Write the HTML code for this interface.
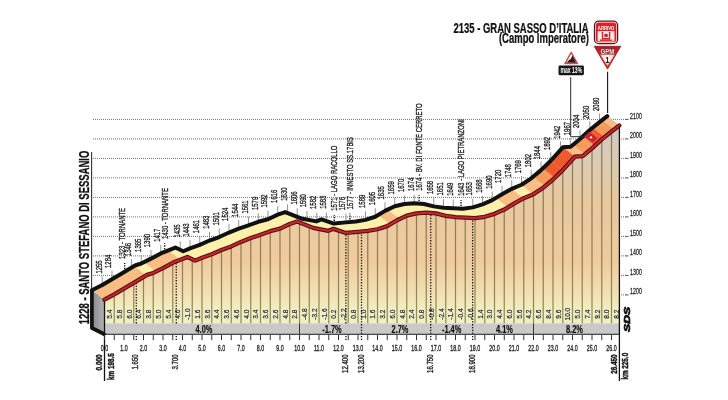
<!DOCTYPE html>
<html><head><meta charset="utf-8"><title>Gran Sasso d'Italia</title>
<style>html,body{margin:0;padding:0;background:#fff}svg{display:block;will-change:transform}text{font-family:"Liberation Sans",sans-serif}</style>
</head><body>
<svg width="728" height="400" viewBox="0 0 728 400" font-family="'Liberation Sans', sans-serif">
<defs>
<linearGradient id="face" gradientUnits="userSpaceOnUse" x1="0" y1="120" x2="0" y2="324"><stop offset="0" stop-color="#cdc9c3"/><stop offset="0.20" stop-color="#dccbb4"/><stop offset="0.40" stop-color="#e9c8a0"/><stop offset="0.69" stop-color="#efcb9f"/><stop offset="0.83" stop-color="#f2dcb0"/><stop offset="0.92" stop-color="#f2ecc0"/><stop offset="1" stop-color="#eff0c3"/></linearGradient>
<linearGradient id="lface" gradientUnits="userSpaceOnUse" x1="92" y1="0" x2="105" y2="0"><stop offset="0" stop-color="#8a8a8c"/><stop offset="1" stop-color="#b4b4b6"/></linearGradient>
<radialGradient id="pink" cx="0.5" cy="0.55" r="0.65"><stop offset="0" stop-color="#fff"/><stop offset="0.6" stop-color="#fef4f3"/><stop offset="1" stop-color="#f8c6c3"/></radialGradient>
<linearGradient id="gpm" x1="0" y1="0" x2="0" y2="1"><stop offset="0" stop-color="#b51b25"/><stop offset="0.5" stop-color="#d8232a"/><stop offset="1" stop-color="#e3312f"/></linearGradient>
<radialGradient id="pink2" cx="0.5" cy="0.35" r="0.7"><stop offset="0" stop-color="#fff"/><stop offset="0.6" stop-color="#fbdcda"/><stop offset="1" stop-color="#ee8f8c"/></radialGradient>
</defs>
<rect width="728" height="400" fill="#fff"/>
<line x1="93" y1="119.4" x2="626" y2="119.4" stroke="#707070" stroke-width="1" stroke-dasharray="1 1"/>
<line x1="625.5" y1="119.4" x2="628.5" y2="119.4" stroke="#555" stroke-width="1"/>
<text transform="translate(630.1,118.7) rotate(0) scale(0.55,1)" font-size="9.6" font-weight="normal" text-anchor="start" fill="#222" stroke="#222" stroke-width="0.3">2100</text>
<line x1="93" y1="138.9" x2="626" y2="138.9" stroke="#707070" stroke-width="1" stroke-dasharray="1 1"/>
<line x1="625.5" y1="138.9" x2="628.5" y2="138.9" stroke="#555" stroke-width="1"/>
<text transform="translate(630.1,138.2) rotate(0) scale(0.55,1)" font-size="9.6" font-weight="normal" text-anchor="start" fill="#222" stroke="#222" stroke-width="0.3">2000</text>
<line x1="93" y1="158.4" x2="626" y2="158.4" stroke="#707070" stroke-width="1" stroke-dasharray="1 1"/>
<line x1="625.5" y1="158.4" x2="628.5" y2="158.4" stroke="#555" stroke-width="1"/>
<text transform="translate(630.1,157.7) rotate(0) scale(0.55,1)" font-size="9.6" font-weight="normal" text-anchor="start" fill="#222" stroke="#222" stroke-width="0.3">1900</text>
<line x1="93" y1="177.9" x2="626" y2="177.9" stroke="#707070" stroke-width="1" stroke-dasharray="1 1"/>
<line x1="625.5" y1="177.9" x2="628.5" y2="177.9" stroke="#555" stroke-width="1"/>
<text transform="translate(630.1,177.2) rotate(0) scale(0.55,1)" font-size="9.6" font-weight="normal" text-anchor="start" fill="#222" stroke="#222" stroke-width="0.3">1800</text>
<line x1="93" y1="197.4" x2="626" y2="197.4" stroke="#707070" stroke-width="1" stroke-dasharray="1 1"/>
<line x1="625.5" y1="197.4" x2="628.5" y2="197.4" stroke="#555" stroke-width="1"/>
<text transform="translate(630.1,196.7) rotate(0) scale(0.55,1)" font-size="9.6" font-weight="normal" text-anchor="start" fill="#222" stroke="#222" stroke-width="0.3">1700</text>
<line x1="93" y1="216.9" x2="626" y2="216.9" stroke="#707070" stroke-width="1" stroke-dasharray="1 1"/>
<line x1="625.5" y1="216.9" x2="628.5" y2="216.9" stroke="#555" stroke-width="1"/>
<text transform="translate(630.1,216.2) rotate(0) scale(0.55,1)" font-size="9.6" font-weight="normal" text-anchor="start" fill="#222" stroke="#222" stroke-width="0.3">1600</text>
<line x1="93" y1="236.4" x2="626" y2="236.4" stroke="#707070" stroke-width="1" stroke-dasharray="1 1"/>
<line x1="625.5" y1="236.4" x2="628.5" y2="236.4" stroke="#555" stroke-width="1"/>
<text transform="translate(630.1,235.7) rotate(0) scale(0.55,1)" font-size="9.6" font-weight="normal" text-anchor="start" fill="#222" stroke="#222" stroke-width="0.3">1500</text>
<line x1="93" y1="255.9" x2="626" y2="255.9" stroke="#707070" stroke-width="1" stroke-dasharray="1 1"/>
<line x1="625.5" y1="255.9" x2="628.5" y2="255.9" stroke="#555" stroke-width="1"/>
<text transform="translate(630.1,255.2) rotate(0) scale(0.55,1)" font-size="9.6" font-weight="normal" text-anchor="start" fill="#222" stroke="#222" stroke-width="0.3">1400</text>
<line x1="93" y1="275.4" x2="626" y2="275.4" stroke="#707070" stroke-width="1" stroke-dasharray="1 1"/>
<line x1="625.5" y1="275.4" x2="628.5" y2="275.4" stroke="#555" stroke-width="1"/>
<text transform="translate(630.1,274.7) rotate(0) scale(0.55,1)" font-size="9.6" font-weight="normal" text-anchor="start" fill="#222" stroke="#222" stroke-width="0.3">1300</text>
<line x1="93" y1="294.9" x2="626" y2="294.9" stroke="#707070" stroke-width="1" stroke-dasharray="1 1"/>
<line x1="625.5" y1="294.9" x2="628.5" y2="294.9" stroke="#555" stroke-width="1"/>
<text transform="translate(630.1,294.2) rotate(0) scale(0.55,1)" font-size="9.6" font-weight="normal" text-anchor="start" fill="#222" stroke="#222" stroke-width="0.3">1200</text>
<line x1="91.6" y1="152" x2="91.6" y2="291" stroke="#333" stroke-width="1.1"/>
<line x1="102.25" y1="283.98" x2="102.25" y2="276.38" stroke="#8a8a8a" stroke-width="0.9"/>
<text transform="translate(101.65,273.57) rotate(-90) scale(0.62,1)" font-size="9.6" font-weight="normal" text-anchor="start" fill="#222" stroke="#222" stroke-width="0.35">1255</text>
<line x1="112" y1="278.32" x2="112" y2="270.72" stroke="#8a8a8a" stroke-width="0.9"/>
<text transform="translate(111.4,267.96) rotate(-90) scale(0.62,1)" font-size="9.6" font-weight="normal" text-anchor="start" fill="#222" stroke="#222" stroke-width="0.35">1284</text>
<line x1="131.5" y1="266.59" x2="131.5" y2="258.99" stroke="#8a8a8a" stroke-width="0.9"/>
<text transform="translate(130.9,256.13) rotate(-90) scale(0.62,1)" font-size="9.6" font-weight="normal" text-anchor="start" fill="#222" stroke="#222" stroke-width="0.35">1346</text>
<line x1="141.25" y1="262.53" x2="141.25" y2="254.93" stroke="#8a8a8a" stroke-width="0.9"/>
<text transform="translate(140.65,251.92) rotate(-90) scale(0.62,1)" font-size="9.6" font-weight="normal" text-anchor="start" fill="#222" stroke="#222" stroke-width="0.35">1365</text>
<line x1="151" y1="257.65" x2="151" y2="250.05" stroke="#8a8a8a" stroke-width="0.9"/>
<text transform="translate(150.4,247.18) rotate(-90) scale(0.62,1)" font-size="9.6" font-weight="normal" text-anchor="start" fill="#222" stroke="#222" stroke-width="0.35">1390</text>
<line x1="160.75" y1="252.39" x2="160.75" y2="244.79" stroke="#8a8a8a" stroke-width="0.9"/>
<text transform="translate(160.15,241.84) rotate(-90) scale(0.62,1)" font-size="9.6" font-weight="normal" text-anchor="start" fill="#222" stroke="#222" stroke-width="0.35">1417</text>
<line x1="180.25" y1="248.85" x2="180.25" y2="241.25" stroke="#8a8a8a" stroke-width="0.9"/>
<text transform="translate(179.65,237.55) rotate(-90) scale(0.62,1)" font-size="9.6" font-weight="normal" text-anchor="start" fill="#222" stroke="#222" stroke-width="0.35">1435</text>
<line x1="190" y1="247.32" x2="190" y2="239.72" stroke="#8a8a8a" stroke-width="0.9"/>
<text transform="translate(189.4,236.56) rotate(-90) scale(0.62,1)" font-size="9.6" font-weight="normal" text-anchor="start" fill="#222" stroke="#222" stroke-width="0.35">1443</text>
<line x1="199.75" y1="243.81" x2="199.75" y2="236.21" stroke="#8a8a8a" stroke-width="0.9"/>
<text transform="translate(199.15,233.14) rotate(-90) scale(0.62,1)" font-size="9.6" font-weight="normal" text-anchor="start" fill="#222" stroke="#222" stroke-width="0.35">1461</text>
<line x1="209.5" y1="239.52" x2="209.5" y2="231.92" stroke="#8a8a8a" stroke-width="0.9"/>
<text transform="translate(208.9,228.85) rotate(-90) scale(0.62,1)" font-size="9.6" font-weight="normal" text-anchor="start" fill="#222" stroke="#222" stroke-width="0.35">1483</text>
<line x1="219.25" y1="236.01" x2="219.25" y2="228.41" stroke="#8a8a8a" stroke-width="0.9"/>
<text transform="translate(218.65,225.36) rotate(-90) scale(0.62,1)" font-size="9.6" font-weight="normal" text-anchor="start" fill="#222" stroke="#222" stroke-width="0.35">1501</text>
<line x1="229" y1="231.52" x2="229" y2="223.92" stroke="#8a8a8a" stroke-width="0.9"/>
<text transform="translate(228.4,220.91) rotate(-90) scale(0.62,1)" font-size="9.6" font-weight="normal" text-anchor="start" fill="#222" stroke="#222" stroke-width="0.35">1524</text>
<line x1="238.75" y1="227.62" x2="238.75" y2="220.02" stroke="#8a8a8a" stroke-width="0.9"/>
<text transform="translate(238.15,216.91) rotate(-90) scale(0.62,1)" font-size="9.6" font-weight="normal" text-anchor="start" fill="#222" stroke="#222" stroke-width="0.35">1544</text>
<line x1="248.5" y1="224.31" x2="248.5" y2="216.71" stroke="#8a8a8a" stroke-width="0.9"/>
<text transform="translate(247.9,213.56) rotate(-90) scale(0.62,1)" font-size="9.6" font-weight="normal" text-anchor="start" fill="#222" stroke="#222" stroke-width="0.35">1561</text>
<line x1="258.25" y1="220.8" x2="258.25" y2="213.2" stroke="#8a8a8a" stroke-width="0.9"/>
<text transform="translate(257.65,209.99) rotate(-90) scale(0.62,1)" font-size="9.6" font-weight="normal" text-anchor="start" fill="#222" stroke="#222" stroke-width="0.35">1579</text>
<line x1="268" y1="218.26" x2="268" y2="210.66" stroke="#8a8a8a" stroke-width="0.9"/>
<text transform="translate(267.4,207.55) rotate(-90) scale(0.62,1)" font-size="9.6" font-weight="normal" text-anchor="start" fill="#222" stroke="#222" stroke-width="0.35">1592</text>
<line x1="277.75" y1="213.58" x2="277.75" y2="205.98" stroke="#8a8a8a" stroke-width="0.9"/>
<text transform="translate(277.15,202.91) rotate(-90) scale(0.62,1)" font-size="9.6" font-weight="normal" text-anchor="start" fill="#222" stroke="#222" stroke-width="0.35">1616</text>
<line x1="287.5" y1="211.99" x2="287.5" y2="204.39" stroke="#8a8a8a" stroke-width="0.9"/>
<text transform="translate(286.9,200.69) rotate(-90) scale(0.62,1)" font-size="9.6" font-weight="normal" text-anchor="start" fill="#222" stroke="#222" stroke-width="0.35">1630</text>
<line x1="297.25" y1="215.91" x2="297.25" y2="208.31" stroke="#8a8a8a" stroke-width="0.9"/>
<text transform="translate(296.65,204.61) rotate(-90) scale(0.62,1)" font-size="9.6" font-weight="normal" text-anchor="start" fill="#222" stroke="#222" stroke-width="0.35">1606</text>
<line x1="307" y1="218.61" x2="307" y2="211.01" stroke="#8a8a8a" stroke-width="0.9"/>
<text transform="translate(306.4,207.31) rotate(-90) scale(0.62,1)" font-size="9.6" font-weight="normal" text-anchor="start" fill="#222" stroke="#222" stroke-width="0.35">1590</text>
<line x1="316.75" y1="220.26" x2="316.75" y2="212.66" stroke="#8a8a8a" stroke-width="0.9"/>
<text transform="translate(316.15,208.96) rotate(-90) scale(0.62,1)" font-size="9.6" font-weight="normal" text-anchor="start" fill="#222" stroke="#222" stroke-width="0.35">1582</text>
<line x1="326.5" y1="220.12" x2="326.5" y2="212.52" stroke="#8a8a8a" stroke-width="0.9"/>
<text transform="translate(325.9,208.82) rotate(-90) scale(0.62,1)" font-size="9.6" font-weight="normal" text-anchor="start" fill="#222" stroke="#222" stroke-width="0.35">1583</text>
<line x1="346" y1="221.38" x2="346" y2="213.78" stroke="#8a8a8a" stroke-width="0.9"/>
<text transform="translate(345.4,210.24) rotate(-90) scale(0.62,1)" font-size="9.6" font-weight="normal" text-anchor="start" fill="#222" stroke="#222" stroke-width="0.35">1576</text>
<line x1="365.5" y1="218.85" x2="365.5" y2="211.25" stroke="#8a8a8a" stroke-width="0.9"/>
<text transform="translate(364.9,207.93) rotate(-90) scale(0.62,1)" font-size="9.6" font-weight="normal" text-anchor="start" fill="#222" stroke="#222" stroke-width="0.35">1589</text>
<line x1="375.25" y1="215.73" x2="375.25" y2="208.13" stroke="#8a8a8a" stroke-width="0.9"/>
<text transform="translate(374.65,205.16) rotate(-90) scale(0.62,1)" font-size="9.6" font-weight="normal" text-anchor="start" fill="#222" stroke="#222" stroke-width="0.35">1605</text>
<line x1="385" y1="209.88" x2="385" y2="202.28" stroke="#8a8a8a" stroke-width="0.9"/>
<text transform="translate(384.4,199.44) rotate(-90) scale(0.62,1)" font-size="9.6" font-weight="normal" text-anchor="start" fill="#222" stroke="#222" stroke-width="0.35">1635</text>
<line x1="394.75" y1="205.2" x2="394.75" y2="197.6" stroke="#8a8a8a" stroke-width="0.9"/>
<text transform="translate(394.15,194.46) rotate(-90) scale(0.62,1)" font-size="9.6" font-weight="normal" text-anchor="start" fill="#222" stroke="#222" stroke-width="0.35">1659</text>
<line x1="404.5" y1="203.05" x2="404.5" y2="195.45" stroke="#8a8a8a" stroke-width="0.9"/>
<text transform="translate(403.9,191.99) rotate(-90) scale(0.62,1)" font-size="9.6" font-weight="normal" text-anchor="start" fill="#222" stroke="#222" stroke-width="0.35">1670</text>
<line x1="414.25" y1="202.27" x2="414.25" y2="194.67" stroke="#8a8a8a" stroke-width="0.9"/>
<text transform="translate(413.65,190.97) rotate(-90) scale(0.62,1)" font-size="9.6" font-weight="normal" text-anchor="start" fill="#222" stroke="#222" stroke-width="0.35">1674</text>
<line x1="433.75" y1="205.39" x2="433.75" y2="197.79" stroke="#8a8a8a" stroke-width="0.9"/>
<text transform="translate(433.15,194.09) rotate(-90) scale(0.62,1)" font-size="9.6" font-weight="normal" text-anchor="start" fill="#222" stroke="#222" stroke-width="0.35">1658</text>
<line x1="443.5" y1="206.76" x2="443.5" y2="199.16" stroke="#8a8a8a" stroke-width="0.9"/>
<text transform="translate(442.9,195.46) rotate(-90) scale(0.62,1)" font-size="9.6" font-weight="normal" text-anchor="start" fill="#222" stroke="#222" stroke-width="0.35">1651</text>
<line x1="453.25" y1="207.15" x2="453.25" y2="199.55" stroke="#8a8a8a" stroke-width="0.9"/>
<text transform="translate(452.65,195.85) rotate(-90) scale(0.62,1)" font-size="9.6" font-weight="normal" text-anchor="start" fill="#222" stroke="#222" stroke-width="0.35">1649</text>
<line x1="472.75" y1="206.37" x2="472.75" y2="198.77" stroke="#8a8a8a" stroke-width="0.9"/>
<text transform="translate(472.15,195.42) rotate(-90) scale(0.62,1)" font-size="9.6" font-weight="normal" text-anchor="start" fill="#222" stroke="#222" stroke-width="0.35">1653</text>
<line x1="482.5" y1="203.44" x2="482.5" y2="195.84" stroke="#8a8a8a" stroke-width="0.9"/>
<text transform="translate(481.9,192.73) rotate(-90) scale(0.62,1)" font-size="9.6" font-weight="normal" text-anchor="start" fill="#222" stroke="#222" stroke-width="0.35">1668</text>
<line x1="492.25" y1="199.15" x2="492.25" y2="191.55" stroke="#8a8a8a" stroke-width="0.9"/>
<text transform="translate(491.65,188.68) rotate(-90) scale(0.62,1)" font-size="9.6" font-weight="normal" text-anchor="start" fill="#222" stroke="#222" stroke-width="0.35">1690</text>
<line x1="502" y1="193.3" x2="502" y2="185.7" stroke="#8a8a8a" stroke-width="0.9"/>
<text transform="translate(501.4,182.93) rotate(-90) scale(0.62,1)" font-size="9.6" font-weight="normal" text-anchor="start" fill="#222" stroke="#222" stroke-width="0.35">1720</text>
<line x1="511.75" y1="187.84" x2="511.75" y2="180.24" stroke="#8a8a8a" stroke-width="0.9"/>
<text transform="translate(511.15,177.32) rotate(-90) scale(0.62,1)" font-size="9.6" font-weight="normal" text-anchor="start" fill="#222" stroke="#222" stroke-width="0.35">1748</text>
<line x1="521.5" y1="183.75" x2="521.5" y2="176.15" stroke="#8a8a8a" stroke-width="0.9"/>
<text transform="translate(520.9,173.31) rotate(-90) scale(0.62,1)" font-size="9.6" font-weight="normal" text-anchor="start" fill="#222" stroke="#222" stroke-width="0.35">1769</text>
<line x1="531.25" y1="177.31" x2="531.25" y2="169.71" stroke="#8a8a8a" stroke-width="0.9"/>
<text transform="translate(530.65,167.21) rotate(-90) scale(0.62,1)" font-size="9.6" font-weight="normal" text-anchor="start" fill="#222" stroke="#222" stroke-width="0.35">1802</text>
<line x1="541" y1="169.12" x2="541" y2="161.52" stroke="#8a8a8a" stroke-width="0.9"/>
<text transform="translate(540.4,159.26) rotate(-90) scale(0.62,1)" font-size="9.6" font-weight="normal" text-anchor="start" fill="#222" stroke="#222" stroke-width="0.35">1844</text>
<line x1="550.75" y1="159.76" x2="550.75" y2="152.16" stroke="#8a8a8a" stroke-width="0.9"/>
<text transform="translate(550.15,150.12) rotate(-90) scale(0.62,1)" font-size="9.6" font-weight="normal" text-anchor="start" fill="#222" stroke="#222" stroke-width="0.35">1892</text>
<line x1="560.5" y1="148.91" x2="560.5" y2="141.31" stroke="#8a8a8a" stroke-width="0.9"/>
<text transform="translate(559.9,138.81) rotate(-90) scale(0.62,1)" font-size="9.6" font-weight="normal" text-anchor="start" fill="#222" stroke="#222" stroke-width="0.35">1942</text>
<line x1="570.25" y1="145.75" x2="570.25" y2="138.15" stroke="#8a8a8a" stroke-width="0.9"/>
<text transform="translate(569.65,135.19) rotate(-90) scale(0.62,1)" font-size="9.6" font-weight="normal" text-anchor="start" fill="#222" stroke="#222" stroke-width="0.35">1967</text>
<line x1="580" y1="137.92" x2="580" y2="130.32" stroke="#8a8a8a" stroke-width="0.9"/>
<text transform="translate(579.4,128.02) rotate(-90) scale(0.62,1)" font-size="9.6" font-weight="normal" text-anchor="start" fill="#222" stroke="#222" stroke-width="0.35">2004</text>
<line x1="589.75" y1="128.95" x2="589.75" y2="121.35" stroke="#8a8a8a" stroke-width="0.9"/>
<text transform="translate(589.15,119.03) rotate(-90) scale(0.62,1)" font-size="9.6" font-weight="normal" text-anchor="start" fill="#222" stroke="#222" stroke-width="0.35">2050</text>
<line x1="599.5" y1="121.15" x2="599.5" y2="113.55" stroke="#8a8a8a" stroke-width="0.9"/>
<text transform="translate(598.9,110.96) rotate(-90) scale(0.62,1)" font-size="9.6" font-weight="normal" text-anchor="start" fill="#222" stroke="#222" stroke-width="0.35">2090</text>
<line x1="124.68" y1="269.11" x2="124.68" y2="263.11" stroke="#111" stroke-width="1.4" stroke-dasharray="1.3 1.3"/>
<text transform="translate(124.88,258.91) rotate(-90) scale(0.62,1)" font-size="9.6" font-weight="normal" text-anchor="start" fill="#222" stroke="#222" stroke-width="0.35">1323 - TORNANTE</text>
<line x1="164.65" y1="249.23" x2="164.65" y2="243.23" stroke="#111" stroke-width="1.4" stroke-dasharray="1.3 1.3"/>
<text transform="translate(167.65,239.03) rotate(-90) scale(0.62,1)" font-size="9.6" font-weight="normal" text-anchor="start" fill="#222" stroke="#222" stroke-width="0.35">1430 - TORNANTE</text>
<line x1="334.3" y1="220.91" x2="334.3" y2="214.91" stroke="#111" stroke-width="1.4" stroke-dasharray="1.3 1.3"/>
<text transform="translate(337.3,210.71) rotate(-90) scale(0.62,1)" font-size="9.6" font-weight="normal" text-anchor="start" fill="#222" stroke="#222" stroke-width="0.35">1571 - LAGO RACOLLO</text>
<line x1="349.9" y1="219.39" x2="349.9" y2="213.39" stroke="#111" stroke-width="1.4" stroke-dasharray="1.3 1.3"/>
<text transform="translate(352.9,209.19) rotate(-90) scale(0.62,1)" font-size="9.6" font-weight="normal" text-anchor="start" fill="#222" stroke="#222" stroke-width="0.35">1577 - INNESTO SS.17BIS</text>
<line x1="419.12" y1="201.06" x2="419.12" y2="195.06" stroke="#111" stroke-width="1.4" stroke-dasharray="1.3 1.3"/>
<text transform="translate(422.12,190.86) rotate(-90) scale(0.62,1)" font-size="9.6" font-weight="normal" text-anchor="start" fill="#222" stroke="#222" stroke-width="0.35">1674 - BV. DI FONTE CERRETO</text>
<line x1="461.05" y1="206.01" x2="461.05" y2="200.01" stroke="#111" stroke-width="1.4" stroke-dasharray="1.3 1.3"/>
<text transform="translate(464.05,195.81) rotate(-90) scale(0.62,1)" font-size="9.6" font-weight="normal" text-anchor="start" fill="#222" stroke="#222" stroke-width="0.35">1643 - LAGO PIETRANZONI</text>
<path d="M104.5,299.64 L114.25,294.38 L124,288.72 L133.75,282.87 L147.01,274.88 L153.25,272.93 L163,268.05 L172.75,262.79 L187.38,256.94 L195.18,260.64 L202,257.72 L211.75,254.21 L221.5,249.92 L231.25,246.41 L241,241.92 L250.75,238.02 L260.5,234.71 L270.25,231.2 L280,228.66 L289.75,223.98 L297.16,221.45 L313.15,227.88 L328.36,230.81 L333.43,228.86 L345.91,232.95 L358,231.78 L367.75,230.81 L377.5,229.25 L387.25,226.13 L397,220.28 L406.75,215.6 L416.5,213.45 L426.25,212.67 L436,213.45 L445.75,215.79 L455.5,217.16 L465.25,217.55 L475,218.13 L484.75,216.77 L494.5,213.84 L504.25,209.55 L514,203.7 L523.75,198.24 L533.5,194.15 L543.25,187.71 L553,179.52 L562.75,170.16 L574.84,156.71 L582.64,156.12 L592,148.32 L601.75,139.35 L611.5,131.55 L619.3,125.51 L619.3,323.4 L104.5,323.4 Z" fill="url(#face)"/>
<line x1="114.25" y1="294.38" x2="114.25" y2="323.4" stroke="#55501c" stroke-opacity="0.62" stroke-width="1.25"/>
<line x1="124" y1="288.72" x2="124" y2="323.4" stroke="#55501c" stroke-opacity="0.62" stroke-width="1.25"/>
<line x1="133.75" y1="282.87" x2="133.75" y2="323.4" stroke="#55501c" stroke-opacity="0.62" stroke-width="1.25"/>
<line x1="143.5" y1="276.99" x2="143.5" y2="323.4" stroke="#55501c" stroke-opacity="0.62" stroke-width="1.25"/>
<line x1="153.25" y1="272.93" x2="153.25" y2="323.4" stroke="#55501c" stroke-opacity="0.62" stroke-width="1.25"/>
<line x1="163" y1="268.05" x2="163" y2="323.4" stroke="#55501c" stroke-opacity="0.62" stroke-width="1.25"/>
<line x1="172.75" y1="262.79" x2="172.75" y2="323.4" stroke="#55501c" stroke-opacity="0.62" stroke-width="1.25"/>
<line x1="182.5" y1="258.88" x2="182.5" y2="323.4" stroke="#55501c" stroke-opacity="0.62" stroke-width="1.25"/>
<line x1="192.25" y1="259.25" x2="192.25" y2="323.4" stroke="#55501c" stroke-opacity="0.62" stroke-width="1.25"/>
<line x1="202" y1="257.72" x2="202" y2="323.4" stroke="#55501c" stroke-opacity="0.62" stroke-width="1.25"/>
<line x1="211.75" y1="254.21" x2="211.75" y2="323.4" stroke="#55501c" stroke-opacity="0.62" stroke-width="1.25"/>
<line x1="221.5" y1="249.92" x2="221.5" y2="323.4" stroke="#55501c" stroke-opacity="0.62" stroke-width="1.25"/>
<line x1="231.25" y1="246.41" x2="231.25" y2="323.4" stroke="#55501c" stroke-opacity="0.62" stroke-width="1.25"/>
<line x1="241" y1="241.92" x2="241" y2="323.4" stroke="#55501c" stroke-opacity="0.62" stroke-width="1.25"/>
<line x1="250.75" y1="238.02" x2="250.75" y2="323.4" stroke="#55501c" stroke-opacity="0.62" stroke-width="1.25"/>
<line x1="260.5" y1="234.71" x2="260.5" y2="323.4" stroke="#55501c" stroke-opacity="0.62" stroke-width="1.25"/>
<line x1="270.25" y1="231.2" x2="270.25" y2="323.4" stroke="#55501c" stroke-opacity="0.62" stroke-width="1.25"/>
<line x1="280" y1="228.66" x2="280" y2="323.4" stroke="#55501c" stroke-opacity="0.62" stroke-width="1.25"/>
<line x1="289.75" y1="223.98" x2="289.75" y2="323.4" stroke="#55501c" stroke-opacity="0.62" stroke-width="1.25"/>
<line x1="299.5" y1="222.39" x2="299.5" y2="323.4" stroke="#55501c" stroke-opacity="0.62" stroke-width="1.25"/>
<line x1="309.25" y1="226.31" x2="309.25" y2="323.4" stroke="#55501c" stroke-opacity="0.62" stroke-width="1.25"/>
<line x1="319" y1="229.01" x2="319" y2="323.4" stroke="#55501c" stroke-opacity="0.62" stroke-width="1.25"/>
<line x1="328.75" y1="230.66" x2="328.75" y2="323.4" stroke="#55501c" stroke-opacity="0.62" stroke-width="1.25"/>
<line x1="338.5" y1="230.52" x2="338.5" y2="323.4" stroke="#55501c" stroke-opacity="0.62" stroke-width="1.25"/>
<line x1="348.25" y1="232.72" x2="348.25" y2="323.4" stroke="#55501c" stroke-opacity="0.62" stroke-width="1.25"/>
<line x1="358" y1="231.78" x2="358" y2="323.4" stroke="#55501c" stroke-opacity="0.62" stroke-width="1.25"/>
<line x1="367.75" y1="230.81" x2="367.75" y2="323.4" stroke="#55501c" stroke-opacity="0.62" stroke-width="1.25"/>
<line x1="377.5" y1="229.25" x2="377.5" y2="323.4" stroke="#55501c" stroke-opacity="0.62" stroke-width="1.25"/>
<line x1="387.25" y1="226.13" x2="387.25" y2="323.4" stroke="#55501c" stroke-opacity="0.62" stroke-width="1.25"/>
<line x1="397" y1="220.28" x2="397" y2="323.4" stroke="#55501c" stroke-opacity="0.62" stroke-width="1.25"/>
<line x1="406.75" y1="215.6" x2="406.75" y2="323.4" stroke="#55501c" stroke-opacity="0.62" stroke-width="1.25"/>
<line x1="416.5" y1="213.45" x2="416.5" y2="323.4" stroke="#55501c" stroke-opacity="0.62" stroke-width="1.25"/>
<line x1="426.25" y1="212.67" x2="426.25" y2="323.4" stroke="#55501c" stroke-opacity="0.62" stroke-width="1.25"/>
<line x1="436" y1="213.45" x2="436" y2="323.4" stroke="#55501c" stroke-opacity="0.62" stroke-width="1.25"/>
<line x1="445.75" y1="215.79" x2="445.75" y2="323.4" stroke="#55501c" stroke-opacity="0.62" stroke-width="1.25"/>
<line x1="455.5" y1="217.16" x2="455.5" y2="323.4" stroke="#55501c" stroke-opacity="0.62" stroke-width="1.25"/>
<line x1="465.25" y1="217.55" x2="465.25" y2="323.4" stroke="#55501c" stroke-opacity="0.62" stroke-width="1.25"/>
<line x1="475" y1="218.13" x2="475" y2="323.4" stroke="#55501c" stroke-opacity="0.62" stroke-width="1.25"/>
<line x1="484.75" y1="216.77" x2="484.75" y2="323.4" stroke="#55501c" stroke-opacity="0.62" stroke-width="1.25"/>
<line x1="494.5" y1="213.84" x2="494.5" y2="323.4" stroke="#55501c" stroke-opacity="0.62" stroke-width="1.25"/>
<line x1="504.25" y1="209.55" x2="504.25" y2="323.4" stroke="#55501c" stroke-opacity="0.62" stroke-width="1.25"/>
<line x1="514" y1="203.7" x2="514" y2="323.4" stroke="#55501c" stroke-opacity="0.62" stroke-width="1.25"/>
<line x1="523.75" y1="198.24" x2="523.75" y2="323.4" stroke="#55501c" stroke-opacity="0.62" stroke-width="1.25"/>
<line x1="533.5" y1="194.15" x2="533.5" y2="323.4" stroke="#55501c" stroke-opacity="0.62" stroke-width="1.25"/>
<line x1="543.25" y1="187.71" x2="543.25" y2="323.4" stroke="#55501c" stroke-opacity="0.62" stroke-width="1.25"/>
<line x1="553" y1="179.52" x2="553" y2="323.4" stroke="#55501c" stroke-opacity="0.62" stroke-width="1.25"/>
<line x1="562.75" y1="170.16" x2="562.75" y2="323.4" stroke="#55501c" stroke-opacity="0.62" stroke-width="1.25"/>
<line x1="572.5" y1="159.31" x2="572.5" y2="323.4" stroke="#55501c" stroke-opacity="0.62" stroke-width="1.25"/>
<line x1="582.25" y1="156.15" x2="582.25" y2="323.4" stroke="#55501c" stroke-opacity="0.62" stroke-width="1.25"/>
<line x1="592" y1="148.32" x2="592" y2="323.4" stroke="#55501c" stroke-opacity="0.62" stroke-width="1.25"/>
<line x1="601.75" y1="139.35" x2="601.75" y2="323.4" stroke="#55501c" stroke-opacity="0.62" stroke-width="1.25"/>
<line x1="611.5" y1="131.55" x2="611.5" y2="323.4" stroke="#55501c" stroke-opacity="0.62" stroke-width="1.25"/>
<text transform="translate(112.17,314.1) rotate(-90) scale(0.84,1)" font-size="7.8" font-weight="normal" text-anchor="middle" fill="#fafae6" opacity="0.55" stroke="#fafae6" stroke-width="1.6">5.4</text>
<text transform="translate(112.17,314.1) rotate(-90) scale(0.84,1)" font-size="7.8" font-weight="normal" text-anchor="middle" fill="#33332c" stroke="#33332c" stroke-width="0.3">5.4</text>
<text transform="translate(121.92,314.1) rotate(-90) scale(0.84,1)" font-size="7.8" font-weight="normal" text-anchor="middle" fill="#fafae6" opacity="0.55" stroke="#fafae6" stroke-width="1.6">5.8</text>
<text transform="translate(121.92,314.1) rotate(-90) scale(0.84,1)" font-size="7.8" font-weight="normal" text-anchor="middle" fill="#33332c" stroke="#33332c" stroke-width="0.3">5.8</text>
<text transform="translate(131.68,314.1) rotate(-90) scale(0.84,1)" font-size="7.8" font-weight="normal" text-anchor="middle" fill="#fafae6" opacity="0.55" stroke="#fafae6" stroke-width="1.6">6.0</text>
<text transform="translate(131.68,314.1) rotate(-90) scale(0.84,1)" font-size="7.8" font-weight="normal" text-anchor="middle" fill="#33332c" stroke="#33332c" stroke-width="0.3">6.0</text>
<text transform="translate(141.43,314.1) rotate(-90) scale(0.84,1)" font-size="7.8" font-weight="normal" text-anchor="middle" fill="#fafae6" opacity="0.55" stroke="#fafae6" stroke-width="1.6">6.4</text>
<text transform="translate(141.43,314.1) rotate(-90) scale(0.84,1)" font-size="7.8" font-weight="normal" text-anchor="middle" fill="#33332c" stroke="#33332c" stroke-width="0.3">6.4</text>
<text transform="translate(151.18,314.1) rotate(-90) scale(0.84,1)" font-size="7.8" font-weight="normal" text-anchor="middle" fill="#fafae6" opacity="0.55" stroke="#fafae6" stroke-width="1.6">3.8</text>
<text transform="translate(151.18,314.1) rotate(-90) scale(0.84,1)" font-size="7.8" font-weight="normal" text-anchor="middle" fill="#33332c" stroke="#33332c" stroke-width="0.3">3.8</text>
<text transform="translate(160.93,314.1) rotate(-90) scale(0.84,1)" font-size="7.8" font-weight="normal" text-anchor="middle" fill="#fafae6" opacity="0.55" stroke="#fafae6" stroke-width="1.6">5.0</text>
<text transform="translate(160.93,314.1) rotate(-90) scale(0.84,1)" font-size="7.8" font-weight="normal" text-anchor="middle" fill="#33332c" stroke="#33332c" stroke-width="0.3">5.0</text>
<text transform="translate(170.68,314.1) rotate(-90) scale(0.84,1)" font-size="7.8" font-weight="normal" text-anchor="middle" fill="#fafae6" opacity="0.55" stroke="#fafae6" stroke-width="1.6">5.4</text>
<text transform="translate(170.68,314.1) rotate(-90) scale(0.84,1)" font-size="7.8" font-weight="normal" text-anchor="middle" fill="#33332c" stroke="#33332c" stroke-width="0.3">5.4</text>
<text transform="translate(180.43,314.1) rotate(-90) scale(0.84,1)" font-size="7.8" font-weight="normal" text-anchor="middle" fill="#fafae6" opacity="0.55" stroke="#fafae6" stroke-width="1.6">4.6</text>
<text transform="translate(180.43,314.1) rotate(-90) scale(0.84,1)" font-size="7.8" font-weight="normal" text-anchor="middle" fill="#33332c" stroke="#33332c" stroke-width="0.3">4.6</text>
<text transform="translate(190.18,314.1) rotate(-90) scale(0.84,1)" font-size="7.8" font-weight="normal" text-anchor="middle" fill="#fafae6" opacity="0.55" stroke="#fafae6" stroke-width="1.6">-1.0</text>
<text transform="translate(190.18,314.1) rotate(-90) scale(0.84,1)" font-size="7.8" font-weight="normal" text-anchor="middle" fill="#33332c" stroke="#33332c" stroke-width="0.3">-1.0</text>
<text transform="translate(199.93,314.1) rotate(-90) scale(0.84,1)" font-size="7.8" font-weight="normal" text-anchor="middle" fill="#fafae6" opacity="0.55" stroke="#fafae6" stroke-width="1.6">1.6</text>
<text transform="translate(199.93,314.1) rotate(-90) scale(0.84,1)" font-size="7.8" font-weight="normal" text-anchor="middle" fill="#33332c" stroke="#33332c" stroke-width="0.3">1.6</text>
<text transform="translate(209.68,314.1) rotate(-90) scale(0.84,1)" font-size="7.8" font-weight="normal" text-anchor="middle" fill="#fafae6" opacity="0.55" stroke="#fafae6" stroke-width="1.6">3.6</text>
<text transform="translate(209.68,314.1) rotate(-90) scale(0.84,1)" font-size="7.8" font-weight="normal" text-anchor="middle" fill="#33332c" stroke="#33332c" stroke-width="0.3">3.6</text>
<text transform="translate(219.43,314.1) rotate(-90) scale(0.84,1)" font-size="7.8" font-weight="normal" text-anchor="middle" fill="#fafae6" opacity="0.55" stroke="#fafae6" stroke-width="1.6">4.4</text>
<text transform="translate(219.43,314.1) rotate(-90) scale(0.84,1)" font-size="7.8" font-weight="normal" text-anchor="middle" fill="#33332c" stroke="#33332c" stroke-width="0.3">4.4</text>
<text transform="translate(229.18,314.1) rotate(-90) scale(0.84,1)" font-size="7.8" font-weight="normal" text-anchor="middle" fill="#fafae6" opacity="0.55" stroke="#fafae6" stroke-width="1.6">3.6</text>
<text transform="translate(229.18,314.1) rotate(-90) scale(0.84,1)" font-size="7.8" font-weight="normal" text-anchor="middle" fill="#33332c" stroke="#33332c" stroke-width="0.3">3.6</text>
<text transform="translate(238.93,314.1) rotate(-90) scale(0.84,1)" font-size="7.8" font-weight="normal" text-anchor="middle" fill="#fafae6" opacity="0.55" stroke="#fafae6" stroke-width="1.6">4.6</text>
<text transform="translate(238.93,314.1) rotate(-90) scale(0.84,1)" font-size="7.8" font-weight="normal" text-anchor="middle" fill="#33332c" stroke="#33332c" stroke-width="0.3">4.6</text>
<text transform="translate(248.68,314.1) rotate(-90) scale(0.84,1)" font-size="7.8" font-weight="normal" text-anchor="middle" fill="#fafae6" opacity="0.55" stroke="#fafae6" stroke-width="1.6">4.0</text>
<text transform="translate(248.68,314.1) rotate(-90) scale(0.84,1)" font-size="7.8" font-weight="normal" text-anchor="middle" fill="#33332c" stroke="#33332c" stroke-width="0.3">4.0</text>
<text transform="translate(258.43,314.1) rotate(-90) scale(0.84,1)" font-size="7.8" font-weight="normal" text-anchor="middle" fill="#fafae6" opacity="0.55" stroke="#fafae6" stroke-width="1.6">3.4</text>
<text transform="translate(258.43,314.1) rotate(-90) scale(0.84,1)" font-size="7.8" font-weight="normal" text-anchor="middle" fill="#33332c" stroke="#33332c" stroke-width="0.3">3.4</text>
<text transform="translate(268.18,314.1) rotate(-90) scale(0.84,1)" font-size="7.8" font-weight="normal" text-anchor="middle" fill="#fafae6" opacity="0.55" stroke="#fafae6" stroke-width="1.6">3.6</text>
<text transform="translate(268.18,314.1) rotate(-90) scale(0.84,1)" font-size="7.8" font-weight="normal" text-anchor="middle" fill="#33332c" stroke="#33332c" stroke-width="0.3">3.6</text>
<text transform="translate(277.93,314.1) rotate(-90) scale(0.84,1)" font-size="7.8" font-weight="normal" text-anchor="middle" fill="#fafae6" opacity="0.55" stroke="#fafae6" stroke-width="1.6">2.6</text>
<text transform="translate(277.93,314.1) rotate(-90) scale(0.84,1)" font-size="7.8" font-weight="normal" text-anchor="middle" fill="#33332c" stroke="#33332c" stroke-width="0.3">2.6</text>
<text transform="translate(287.68,314.1) rotate(-90) scale(0.84,1)" font-size="7.8" font-weight="normal" text-anchor="middle" fill="#fafae6" opacity="0.55" stroke="#fafae6" stroke-width="1.6">4.8</text>
<text transform="translate(287.68,314.1) rotate(-90) scale(0.84,1)" font-size="7.8" font-weight="normal" text-anchor="middle" fill="#33332c" stroke="#33332c" stroke-width="0.3">4.8</text>
<text transform="translate(297.43,314.1) rotate(-90) scale(0.84,1)" font-size="7.8" font-weight="normal" text-anchor="middle" fill="#fafae6" opacity="0.55" stroke="#fafae6" stroke-width="1.6">2.8</text>
<text transform="translate(297.43,314.1) rotate(-90) scale(0.84,1)" font-size="7.8" font-weight="normal" text-anchor="middle" fill="#33332c" stroke="#33332c" stroke-width="0.3">2.8</text>
<text transform="translate(307.18,314.1) rotate(-90) scale(0.84,1)" font-size="7.8" font-weight="normal" text-anchor="middle" fill="#fafae6" opacity="0.55" stroke="#fafae6" stroke-width="1.6">-4.8</text>
<text transform="translate(307.18,314.1) rotate(-90) scale(0.84,1)" font-size="7.8" font-weight="normal" text-anchor="middle" fill="#33332c" stroke="#33332c" stroke-width="0.3">-4.8</text>
<text transform="translate(316.93,314.1) rotate(-90) scale(0.84,1)" font-size="7.8" font-weight="normal" text-anchor="middle" fill="#fafae6" opacity="0.55" stroke="#fafae6" stroke-width="1.6">-3.2</text>
<text transform="translate(316.93,314.1) rotate(-90) scale(0.84,1)" font-size="7.8" font-weight="normal" text-anchor="middle" fill="#33332c" stroke="#33332c" stroke-width="0.3">-3.2</text>
<text transform="translate(326.68,314.1) rotate(-90) scale(0.84,1)" font-size="7.8" font-weight="normal" text-anchor="middle" fill="#fafae6" opacity="0.55" stroke="#fafae6" stroke-width="1.6">-1.6</text>
<text transform="translate(326.68,314.1) rotate(-90) scale(0.84,1)" font-size="7.8" font-weight="normal" text-anchor="middle" fill="#33332c" stroke="#33332c" stroke-width="0.3">-1.6</text>
<text transform="translate(336.43,314.1) rotate(-90) scale(0.84,1)" font-size="7.8" font-weight="normal" text-anchor="middle" fill="#fafae6" opacity="0.55" stroke="#fafae6" stroke-width="1.6">0.2</text>
<text transform="translate(336.43,314.1) rotate(-90) scale(0.84,1)" font-size="7.8" font-weight="normal" text-anchor="middle" fill="#33332c" stroke="#33332c" stroke-width="0.3">0.2</text>
<text transform="translate(346.18,314.1) rotate(-90) scale(0.84,1)" font-size="7.8" font-weight="normal" text-anchor="middle" fill="#fafae6" opacity="0.55" stroke="#fafae6" stroke-width="1.6">-2.2</text>
<text transform="translate(346.18,314.1) rotate(-90) scale(0.84,1)" font-size="7.8" font-weight="normal" text-anchor="middle" fill="#33332c" stroke="#33332c" stroke-width="0.3">-2.2</text>
<text transform="translate(355.93,314.1) rotate(-90) scale(0.84,1)" font-size="7.8" font-weight="normal" text-anchor="middle" fill="#fafae6" opacity="0.55" stroke="#fafae6" stroke-width="1.6">0.8</text>
<text transform="translate(355.93,314.1) rotate(-90) scale(0.84,1)" font-size="7.8" font-weight="normal" text-anchor="middle" fill="#33332c" stroke="#33332c" stroke-width="0.3">0.8</text>
<text transform="translate(365.68,314.1) rotate(-90) scale(0.84,1)" font-size="7.8" font-weight="normal" text-anchor="middle" fill="#fafae6" opacity="0.55" stroke="#fafae6" stroke-width="1.6">1.0</text>
<text transform="translate(365.68,314.1) rotate(-90) scale(0.84,1)" font-size="7.8" font-weight="normal" text-anchor="middle" fill="#33332c" stroke="#33332c" stroke-width="0.3">1.0</text>
<text transform="translate(375.43,314.1) rotate(-90) scale(0.84,1)" font-size="7.8" font-weight="normal" text-anchor="middle" fill="#fafae6" opacity="0.55" stroke="#fafae6" stroke-width="1.6">1.6</text>
<text transform="translate(375.43,314.1) rotate(-90) scale(0.84,1)" font-size="7.8" font-weight="normal" text-anchor="middle" fill="#33332c" stroke="#33332c" stroke-width="0.3">1.6</text>
<text transform="translate(385.18,314.1) rotate(-90) scale(0.84,1)" font-size="7.8" font-weight="normal" text-anchor="middle" fill="#fafae6" opacity="0.55" stroke="#fafae6" stroke-width="1.6">3.2</text>
<text transform="translate(385.18,314.1) rotate(-90) scale(0.84,1)" font-size="7.8" font-weight="normal" text-anchor="middle" fill="#33332c" stroke="#33332c" stroke-width="0.3">3.2</text>
<text transform="translate(394.93,314.1) rotate(-90) scale(0.84,1)" font-size="7.8" font-weight="normal" text-anchor="middle" fill="#fafae6" opacity="0.55" stroke="#fafae6" stroke-width="1.6">6.0</text>
<text transform="translate(394.93,314.1) rotate(-90) scale(0.84,1)" font-size="7.8" font-weight="normal" text-anchor="middle" fill="#33332c" stroke="#33332c" stroke-width="0.3">6.0</text>
<text transform="translate(404.68,314.1) rotate(-90) scale(0.84,1)" font-size="7.8" font-weight="normal" text-anchor="middle" fill="#fafae6" opacity="0.55" stroke="#fafae6" stroke-width="1.6">4.8</text>
<text transform="translate(404.68,314.1) rotate(-90) scale(0.84,1)" font-size="7.8" font-weight="normal" text-anchor="middle" fill="#33332c" stroke="#33332c" stroke-width="0.3">4.8</text>
<text transform="translate(414.43,314.1) rotate(-90) scale(0.84,1)" font-size="7.8" font-weight="normal" text-anchor="middle" fill="#fafae6" opacity="0.55" stroke="#fafae6" stroke-width="1.6">2.4</text>
<text transform="translate(414.43,314.1) rotate(-90) scale(0.84,1)" font-size="7.8" font-weight="normal" text-anchor="middle" fill="#33332c" stroke="#33332c" stroke-width="0.3">2.4</text>
<text transform="translate(424.18,314.1) rotate(-90) scale(0.84,1)" font-size="7.8" font-weight="normal" text-anchor="middle" fill="#fafae6" opacity="0.55" stroke="#fafae6" stroke-width="1.6">0.8</text>
<text transform="translate(424.18,314.1) rotate(-90) scale(0.84,1)" font-size="7.8" font-weight="normal" text-anchor="middle" fill="#33332c" stroke="#33332c" stroke-width="0.3">0.8</text>
<text transform="translate(433.93,314.1) rotate(-90) scale(0.84,1)" font-size="7.8" font-weight="normal" text-anchor="middle" fill="#fafae6" opacity="0.55" stroke="#fafae6" stroke-width="1.6">-0.8</text>
<text transform="translate(433.93,314.1) rotate(-90) scale(0.84,1)" font-size="7.8" font-weight="normal" text-anchor="middle" fill="#33332c" stroke="#33332c" stroke-width="0.3">-0.8</text>
<text transform="translate(443.68,314.1) rotate(-90) scale(0.84,1)" font-size="7.8" font-weight="normal" text-anchor="middle" fill="#fafae6" opacity="0.55" stroke="#fafae6" stroke-width="1.6">-2.4</text>
<text transform="translate(443.68,314.1) rotate(-90) scale(0.84,1)" font-size="7.8" font-weight="normal" text-anchor="middle" fill="#33332c" stroke="#33332c" stroke-width="0.3">-2.4</text>
<text transform="translate(453.43,314.1) rotate(-90) scale(0.84,1)" font-size="7.8" font-weight="normal" text-anchor="middle" fill="#fafae6" opacity="0.55" stroke="#fafae6" stroke-width="1.6">-1.4</text>
<text transform="translate(453.43,314.1) rotate(-90) scale(0.84,1)" font-size="7.8" font-weight="normal" text-anchor="middle" fill="#33332c" stroke="#33332c" stroke-width="0.3">-1.4</text>
<text transform="translate(463.18,314.1) rotate(-90) scale(0.84,1)" font-size="7.8" font-weight="normal" text-anchor="middle" fill="#fafae6" opacity="0.55" stroke="#fafae6" stroke-width="1.6">-0.4</text>
<text transform="translate(463.18,314.1) rotate(-90) scale(0.84,1)" font-size="7.8" font-weight="normal" text-anchor="middle" fill="#33332c" stroke="#33332c" stroke-width="0.3">-0.4</text>
<text transform="translate(472.93,314.1) rotate(-90) scale(0.84,1)" font-size="7.8" font-weight="normal" text-anchor="middle" fill="#fafae6" opacity="0.55" stroke="#fafae6" stroke-width="1.6">-0.6</text>
<text transform="translate(472.93,314.1) rotate(-90) scale(0.84,1)" font-size="7.8" font-weight="normal" text-anchor="middle" fill="#33332c" stroke="#33332c" stroke-width="0.3">-0.6</text>
<text transform="translate(482.68,314.1) rotate(-90) scale(0.84,1)" font-size="7.8" font-weight="normal" text-anchor="middle" fill="#fafae6" opacity="0.55" stroke="#fafae6" stroke-width="1.6">1.4</text>
<text transform="translate(482.68,314.1) rotate(-90) scale(0.84,1)" font-size="7.8" font-weight="normal" text-anchor="middle" fill="#33332c" stroke="#33332c" stroke-width="0.3">1.4</text>
<text transform="translate(492.43,314.1) rotate(-90) scale(0.84,1)" font-size="7.8" font-weight="normal" text-anchor="middle" fill="#fafae6" opacity="0.55" stroke="#fafae6" stroke-width="1.6">3.0</text>
<text transform="translate(492.43,314.1) rotate(-90) scale(0.84,1)" font-size="7.8" font-weight="normal" text-anchor="middle" fill="#33332c" stroke="#33332c" stroke-width="0.3">3.0</text>
<text transform="translate(502.18,314.1) rotate(-90) scale(0.84,1)" font-size="7.8" font-weight="normal" text-anchor="middle" fill="#fafae6" opacity="0.55" stroke="#fafae6" stroke-width="1.6">4.4</text>
<text transform="translate(502.18,314.1) rotate(-90) scale(0.84,1)" font-size="7.8" font-weight="normal" text-anchor="middle" fill="#33332c" stroke="#33332c" stroke-width="0.3">4.4</text>
<text transform="translate(511.93,314.1) rotate(-90) scale(0.84,1)" font-size="7.8" font-weight="normal" text-anchor="middle" fill="#fafae6" opacity="0.55" stroke="#fafae6" stroke-width="1.6">6.0</text>
<text transform="translate(511.93,314.1) rotate(-90) scale(0.84,1)" font-size="7.8" font-weight="normal" text-anchor="middle" fill="#33332c" stroke="#33332c" stroke-width="0.3">6.0</text>
<text transform="translate(521.67,314.1) rotate(-90) scale(0.84,1)" font-size="7.8" font-weight="normal" text-anchor="middle" fill="#fafae6" opacity="0.55" stroke="#fafae6" stroke-width="1.6">5.6</text>
<text transform="translate(521.67,314.1) rotate(-90) scale(0.84,1)" font-size="7.8" font-weight="normal" text-anchor="middle" fill="#33332c" stroke="#33332c" stroke-width="0.3">5.6</text>
<text transform="translate(531.42,314.1) rotate(-90) scale(0.84,1)" font-size="7.8" font-weight="normal" text-anchor="middle" fill="#fafae6" opacity="0.55" stroke="#fafae6" stroke-width="1.6">4.2</text>
<text transform="translate(531.42,314.1) rotate(-90) scale(0.84,1)" font-size="7.8" font-weight="normal" text-anchor="middle" fill="#33332c" stroke="#33332c" stroke-width="0.3">4.2</text>
<text transform="translate(541.17,314.1) rotate(-90) scale(0.84,1)" font-size="7.8" font-weight="normal" text-anchor="middle" fill="#fafae6" opacity="0.55" stroke="#fafae6" stroke-width="1.6">6.6</text>
<text transform="translate(541.17,314.1) rotate(-90) scale(0.84,1)" font-size="7.8" font-weight="normal" text-anchor="middle" fill="#33332c" stroke="#33332c" stroke-width="0.3">6.6</text>
<text transform="translate(550.92,314.1) rotate(-90) scale(0.84,1)" font-size="7.8" font-weight="normal" text-anchor="middle" fill="#fafae6" opacity="0.55" stroke="#fafae6" stroke-width="1.6">8.4</text>
<text transform="translate(550.92,314.1) rotate(-90) scale(0.84,1)" font-size="7.8" font-weight="normal" text-anchor="middle" fill="#33332c" stroke="#33332c" stroke-width="0.3">8.4</text>
<text transform="translate(560.67,314.1) rotate(-90) scale(0.84,1)" font-size="7.8" font-weight="normal" text-anchor="middle" fill="#fafae6" opacity="0.55" stroke="#fafae6" stroke-width="1.6">9.6</text>
<text transform="translate(560.67,314.1) rotate(-90) scale(0.84,1)" font-size="7.8" font-weight="normal" text-anchor="middle" fill="#33332c" stroke="#33332c" stroke-width="0.3">9.6</text>
<text transform="translate(570.42,314.1) rotate(-90) scale(0.84,1)" font-size="7.8" font-weight="normal" text-anchor="middle" fill="#fafae6" opacity="0.55" stroke="#fafae6" stroke-width="1.6">10.0</text>
<text transform="translate(570.42,314.1) rotate(-90) scale(0.84,1)" font-size="7.8" font-weight="normal" text-anchor="middle" fill="#33332c" stroke="#33332c" stroke-width="0.3">10.0</text>
<text transform="translate(580.17,314.1) rotate(-90) scale(0.84,1)" font-size="7.8" font-weight="normal" text-anchor="middle" fill="#fafae6" opacity="0.55" stroke="#fafae6" stroke-width="1.6">5.0</text>
<text transform="translate(580.17,314.1) rotate(-90) scale(0.84,1)" font-size="7.8" font-weight="normal" text-anchor="middle" fill="#33332c" stroke="#33332c" stroke-width="0.3">5.0</text>
<text transform="translate(589.92,314.1) rotate(-90) scale(0.84,1)" font-size="7.8" font-weight="normal" text-anchor="middle" fill="#fafae6" opacity="0.55" stroke="#fafae6" stroke-width="1.6">7.4</text>
<text transform="translate(589.92,314.1) rotate(-90) scale(0.84,1)" font-size="7.8" font-weight="normal" text-anchor="middle" fill="#33332c" stroke="#33332c" stroke-width="0.3">7.4</text>
<text transform="translate(599.67,314.1) rotate(-90) scale(0.84,1)" font-size="7.8" font-weight="normal" text-anchor="middle" fill="#fafae6" opacity="0.55" stroke="#fafae6" stroke-width="1.6">9.2</text>
<text transform="translate(599.67,314.1) rotate(-90) scale(0.84,1)" font-size="7.8" font-weight="normal" text-anchor="middle" fill="#33332c" stroke="#33332c" stroke-width="0.3">9.2</text>
<text transform="translate(609.42,314.1) rotate(-90) scale(0.84,1)" font-size="7.8" font-weight="normal" text-anchor="middle" fill="#fafae6" opacity="0.55" stroke="#fafae6" stroke-width="1.6">8.0</text>
<text transform="translate(609.42,314.1) rotate(-90) scale(0.84,1)" font-size="7.8" font-weight="normal" text-anchor="middle" fill="#33332c" stroke="#33332c" stroke-width="0.3">8.0</text>
<text transform="translate(618.69,314.1) rotate(-90) scale(0.84,1)" font-size="7.8" font-weight="normal" text-anchor="middle" fill="#fafae6" opacity="0.55" stroke="#fafae6" stroke-width="1.6">8.2</text>
<text transform="translate(618.69,314.1) rotate(-90) scale(0.84,1)" font-size="7.8" font-weight="normal" text-anchor="middle" fill="#33332c" stroke="#33332c" stroke-width="0.3">8.2</text>
<rect x="104.5" y="323.4" width="514.9" height="10.4" fill="#c9c9c9"/>
<line x1="299.5" y1="323.4" x2="299.5" y2="333.8" stroke="#222" stroke-width="0.9"/>
<line x1="533.5" y1="323.4" x2="533.5" y2="333.8" stroke="#222" stroke-width="0.9"/>
<text transform="translate(204,332.6) rotate(0) scale(0.7,1)" font-size="10.6" font-weight="bold" text-anchor="middle" fill="#111" stroke="#111" stroke-width="0.2">4.0%</text>
<text transform="translate(332,332.6) rotate(0) scale(0.7,1)" font-size="10.6" font-weight="bold" text-anchor="middle" fill="#111" stroke="#111" stroke-width="0.2">-1.7%</text>
<text transform="translate(400,332.6) rotate(0) scale(0.7,1)" font-size="10.6" font-weight="bold" text-anchor="middle" fill="#111" stroke="#111" stroke-width="0.2">2.7%</text>
<text transform="translate(451.6,332.6) rotate(0) scale(0.7,1)" font-size="10.6" font-weight="bold" text-anchor="middle" fill="#111" stroke="#111" stroke-width="0.2">-1.4%</text>
<text transform="translate(504.4,332.6) rotate(0) scale(0.7,1)" font-size="10.6" font-weight="bold" text-anchor="middle" fill="#111" stroke="#111" stroke-width="0.2">4.1%</text>
<text transform="translate(574.4,332.6) rotate(0) scale(0.7,1)" font-size="10.6" font-weight="bold" text-anchor="middle" fill="#111" stroke="#111" stroke-width="0.2">8.2%</text>
<line x1="136.28" y1="323.4" x2="136.28" y2="281.11" stroke="#111" stroke-width="1.3" stroke-dasharray="1.3 1.5"/>
<line x1="136.28" y1="336" x2="136.28" y2="341" stroke="#111" stroke-width="1.3" stroke-dasharray="1.3 1.5"/>
<line x1="176.25" y1="323.4" x2="176.25" y2="261.23" stroke="#111" stroke-width="1.3" stroke-dasharray="1.3 1.5"/>
<line x1="176.25" y1="336" x2="176.25" y2="341" stroke="#111" stroke-width="1.3" stroke-dasharray="1.3 1.5"/>
<line x1="345.9" y1="323.4" x2="345.9" y2="232.91" stroke="#111" stroke-width="1.3" stroke-dasharray="1.3 1.5"/>
<line x1="345.9" y1="336" x2="345.9" y2="341" stroke="#111" stroke-width="1.3" stroke-dasharray="1.3 1.5"/>
<line x1="361.5" y1="333.8" x2="361.5" y2="231.39" stroke="#111" stroke-width="1.3" stroke-dasharray="1.3 1.5"/>
<line x1="361.5" y1="336" x2="361.5" y2="341" stroke="#111" stroke-width="1.3" stroke-dasharray="1.3 1.5"/>
<line x1="430.73" y1="333.8" x2="430.73" y2="213.06" stroke="#111" stroke-width="1.3" stroke-dasharray="1.3 1.5"/>
<line x1="430.73" y1="336" x2="430.73" y2="341" stroke="#111" stroke-width="1.3" stroke-dasharray="1.3 1.5"/>
<line x1="472.65" y1="333.8" x2="472.65" y2="218.01" stroke="#111" stroke-width="1.3" stroke-dasharray="1.3 1.5"/>
<line x1="472.65" y1="336" x2="472.65" y2="341" stroke="#111" stroke-width="1.3" stroke-dasharray="1.3 1.5"/>
<polygon points="92.5,290.24 102.25,284.98 114.25,294.38 104.5,299.64" fill="#f7bd84" stroke="#f7bd84" stroke-width="0.4"/>
<polygon points="102.25,284.98 112,279.32 124,288.72 114.25,294.38" fill="#f7bd84" stroke="#f7bd84" stroke-width="0.4"/>
<polygon points="112,279.32 121.75,273.47 133.75,282.87 124,288.72" fill="#f7bd84" stroke="#f7bd84" stroke-width="0.4"/>
<polygon points="121.75,273.47 134.43,265.83 146.43,275.23 133.75,282.87" fill="#f7bd84" stroke="#f7bd84" stroke-width="0.4"/>
<polygon points="134.43,265.83 135.01,265.48 147.01,274.88 146.43,275.23" fill="#fcf0aa" stroke="#fcf0aa" stroke-width="0.4"/>
<polygon points="135.01,265.48 141.25,263.53 153.25,272.93 147.01,274.88" fill="#fcf0aa" stroke="#fcf0aa" stroke-width="0.4"/>
<polygon points="141.25,263.53 144.18,262.06 156.18,271.46 153.25,272.93" fill="#fcf0aa" stroke="#fcf0aa" stroke-width="0.4"/>
<polygon points="144.18,262.06 151,258.65 163,268.05 156.18,271.46" fill="#f7bd84" stroke="#f7bd84" stroke-width="0.4"/>
<polygon points="151,258.65 160.75,253.39 172.75,262.79 163,268.05" fill="#f7bd84" stroke="#f7bd84" stroke-width="0.4"/>
<polygon points="160.75,253.39 168.55,250.27 180.55,259.67 172.75,262.79" fill="#f7bd84" stroke="#f7bd84" stroke-width="0.4"/>
<polygon points="168.55,250.27 175.38,247.54 187.38,256.94 180.55,259.67" fill="#fcf0aa" stroke="#fcf0aa" stroke-width="0.4"/>
<polygon points="175.38,247.54 183.18,251.24 195.18,260.64 187.38,256.94" fill="#fcf0aa" stroke="#fcf0aa" stroke-width="0.4"/>
<polygon points="183.18,251.24 190,248.32 202,257.72 195.18,260.64" fill="#fcf0aa" stroke="#fcf0aa" stroke-width="0.4"/>
<polygon points="190,248.32 199.75,244.81 211.75,254.21 202,257.72" fill="#fcf0aa" stroke="#fcf0aa" stroke-width="0.4"/>
<polygon points="199.75,244.81 209.5,240.52 221.5,249.92 211.75,254.21" fill="#fcf0aa" stroke="#fcf0aa" stroke-width="0.4"/>
<polygon points="209.5,240.52 219.25,237.01 231.25,246.41 221.5,249.92" fill="#fcf0aa" stroke="#fcf0aa" stroke-width="0.4"/>
<polygon points="219.25,237.01 229,232.52 241,241.92 231.25,246.41" fill="#fcf0aa" stroke="#fcf0aa" stroke-width="0.4"/>
<polygon points="229,232.52 238.75,228.62 250.75,238.02 241,241.92" fill="#fcf0aa" stroke="#fcf0aa" stroke-width="0.4"/>
<polygon points="238.75,228.62 248.5,225.31 260.5,234.71 250.75,238.02" fill="#fcf0aa" stroke="#fcf0aa" stroke-width="0.4"/>
<polygon points="248.5,225.31 258.25,221.8 270.25,231.2 260.5,234.71" fill="#fcf0aa" stroke="#fcf0aa" stroke-width="0.4"/>
<polygon points="258.25,221.8 268,219.26 280,228.66 270.25,231.2" fill="#fcf0aa" stroke="#fcf0aa" stroke-width="0.4"/>
<polygon points="268,219.26 277.75,214.58 289.75,223.98 280,228.66" fill="#fcf0aa" stroke="#fcf0aa" stroke-width="0.4"/>
<polygon points="277.75,214.58 285.16,212.05 297.16,221.45 289.75,223.98" fill="#fcf0aa" stroke="#fcf0aa" stroke-width="0.4"/>
<polygon points="285.16,212.05 301.15,218.48 313.15,227.88 297.16,221.45" fill="#fcf0aa" stroke="#fcf0aa" stroke-width="0.4"/>
<polygon points="301.15,218.48 316.36,221.41 328.36,230.81 313.15,227.88" fill="#fcf0aa" stroke="#fcf0aa" stroke-width="0.4"/>
<polygon points="316.36,221.41 321.43,219.46 333.43,228.86 328.36,230.81" fill="#fcf0aa" stroke="#fcf0aa" stroke-width="0.4"/>
<polygon points="321.43,219.46 333.91,223.55 345.91,232.95 333.43,228.86" fill="#fcf0aa" stroke="#fcf0aa" stroke-width="0.4"/>
<polygon points="333.91,223.55 346,222.38 358,231.78 345.91,232.95" fill="#fcf0aa" stroke="#fcf0aa" stroke-width="0.4"/>
<polygon points="346,222.38 355.75,221.41 367.75,230.81 358,231.78" fill="#fcf0aa" stroke="#fcf0aa" stroke-width="0.4"/>
<polygon points="355.75,221.41 365.5,219.85 377.5,229.25 367.75,230.81" fill="#fcf0aa" stroke="#fcf0aa" stroke-width="0.4"/>
<polygon points="365.5,219.85 375.25,216.73 387.25,226.13 377.5,229.25" fill="#fcf0aa" stroke="#fcf0aa" stroke-width="0.4"/>
<polygon points="375.25,216.73 378.18,214.97 390.18,224.37 387.25,226.13" fill="#fcf0aa" stroke="#fcf0aa" stroke-width="0.4"/>
<polygon points="378.18,214.97 385,210.88 397,220.28 390.18,224.37" fill="#f7bd84" stroke="#f7bd84" stroke-width="0.4"/>
<polygon points="385,210.88 387.93,209.47 399.93,218.87 397,220.28" fill="#f7bd84" stroke="#f7bd84" stroke-width="0.4"/>
<polygon points="387.93,209.47 394.75,206.2 406.75,215.6 399.93,218.87" fill="#fcf0aa" stroke="#fcf0aa" stroke-width="0.4"/>
<polygon points="394.75,206.2 404.5,204.05 416.5,213.45 406.75,215.6" fill="#fcf0aa" stroke="#fcf0aa" stroke-width="0.4"/>
<polygon points="404.5,204.05 414.25,203.27 426.25,212.67 416.5,213.45" fill="#fcf0aa" stroke="#fcf0aa" stroke-width="0.4"/>
<polygon points="414.25,203.27 424,204.05 436,213.45 426.25,212.67" fill="#fcf0aa" stroke="#fcf0aa" stroke-width="0.4"/>
<polygon points="424,204.05 433.75,206.39 445.75,215.79 436,213.45" fill="#fcf0aa" stroke="#fcf0aa" stroke-width="0.4"/>
<polygon points="433.75,206.39 443.5,207.76 455.5,217.16 445.75,215.79" fill="#fcf0aa" stroke="#fcf0aa" stroke-width="0.4"/>
<polygon points="443.5,207.76 453.25,208.15 465.25,217.55 455.5,217.16" fill="#fcf0aa" stroke="#fcf0aa" stroke-width="0.4"/>
<polygon points="453.25,208.15 463,208.73 475,218.13 465.25,217.55" fill="#fcf0aa" stroke="#fcf0aa" stroke-width="0.4"/>
<polygon points="463,208.73 472.75,207.37 484.75,216.77 475,218.13" fill="#fcf0aa" stroke="#fcf0aa" stroke-width="0.4"/>
<polygon points="472.75,207.37 482.5,204.44 494.5,213.84 484.75,216.77" fill="#fcf0aa" stroke="#fcf0aa" stroke-width="0.4"/>
<polygon points="482.5,204.44 492.25,200.15 504.25,209.55 494.5,213.84" fill="#fcf0aa" stroke="#fcf0aa" stroke-width="0.4"/>
<polygon points="492.25,200.15 496.15,197.81 508.15,207.21 504.25,209.55" fill="#fcf0aa" stroke="#fcf0aa" stroke-width="0.4"/>
<polygon points="496.15,197.81 502,194.3 514,203.7 508.15,207.21" fill="#f7bd84" stroke="#f7bd84" stroke-width="0.4"/>
<polygon points="502,194.3 511.75,188.84 523.75,198.24 514,203.7" fill="#f7bd84" stroke="#f7bd84" stroke-width="0.4"/>
<polygon points="511.75,188.84 521.5,184.75 533.5,194.15 523.75,198.24" fill="#fcf0aa" stroke="#fcf0aa" stroke-width="0.4"/>
<polygon points="521.5,184.75 531.25,178.31 543.25,187.71 533.5,194.15" fill="#f7bd84" stroke="#f7bd84" stroke-width="0.4"/>
<polygon points="531.25,178.31 533.2,176.67 545.2,186.07 543.25,187.71" fill="#f7bd84" stroke="#f7bd84" stroke-width="0.4"/>
<polygon points="533.2,176.67 541,170.12 553,179.52 545.2,186.07" fill="#f59a5c" stroke="#f59a5c" stroke-width="0.4"/>
<polygon points="541,170.12 542.95,168.25 554.95,177.65 553,179.52" fill="#f59a5c" stroke="#f59a5c" stroke-width="0.4"/>
<polygon points="542.95,168.25 550.75,160.76 562.75,170.16 554.95,177.65" fill="#ee5a2c" stroke="#ee5a2c" stroke-width="0.4"/>
<polygon points="550.75,160.76 562.84,147.31 574.84,156.71 562.75,170.16" fill="#ee5a2c" stroke="#ee5a2c" stroke-width="0.4"/>
<polygon points="562.84,147.31 563.42,147.26 575.42,156.66 574.84,156.71" fill="#ee5a2c" stroke="#ee5a2c" stroke-width="0.4"/>
<polygon points="563.42,147.26 570.64,146.72 582.64,156.12 575.42,156.66" fill="#f7bd84" stroke="#f7bd84" stroke-width="0.4"/>
<polygon points="570.64,146.72 573.17,144.61 585.17,154.01 582.64,156.12" fill="#f7bd84" stroke="#f7bd84" stroke-width="0.4"/>
<polygon points="573.17,144.61 580,138.92 592,148.32 585.17,154.01" fill="#f59a5c" stroke="#f59a5c" stroke-width="0.4"/>
<polygon points="580,138.92 582.92,136.23 594.92,145.63 592,148.32" fill="#f59a5c" stroke="#f59a5c" stroke-width="0.4"/>
<polygon points="582.92,136.23 589.75,129.95 601.75,139.35 594.92,145.63" fill="#ee5a2c" stroke="#ee5a2c" stroke-width="0.4"/>
<polygon points="589.75,129.95 592.67,127.61 604.67,137.01 601.75,139.35" fill="#ee5a2c" stroke="#ee5a2c" stroke-width="0.4"/>
<polygon points="592.67,127.61 599.5,122.15 611.5,131.55 604.67,137.01" fill="#f59a5c" stroke="#f59a5c" stroke-width="0.4"/>
<polygon points="599.5,122.15 602.42,119.88 614.42,129.28 611.5,131.55" fill="#f59a5c" stroke="#f59a5c" stroke-width="0.4"/>
<polygon points="602.42,119.88 607.3,116.11 619.3,125.51 614.42,129.28" fill="#f7bd84" stroke="#f7bd84" stroke-width="0.4"/>
<polygon points="91.9,290.24 104.5,299.64 104.5,334.3 91.9,327.8" fill="url(#lface)"/>
<path d="M91.9,290.24 L91.9,328 L103.9,334" fill="none" stroke="#111" stroke-width="3.7" stroke-linejoin="round" stroke-linecap="round"/>
<line x1="104.5" y1="299.64" x2="104.5" y2="381" stroke="#111" stroke-width="1.3"/>
<path d="M91.9,290.24 L102.25,284.98 L112,279.32 L121.75,273.47 L135.01,265.48 L141.25,263.53 L151,258.65 L160.75,253.39 L175.38,247.54 L183.18,251.24 L190,248.32 L199.75,244.81 L209.5,240.52 L219.25,237.01 L229,232.52 L238.75,228.62 L248.5,225.31 L258.25,221.8 L268,219.26 L277.75,214.58 L285.16,212.05 L301.15,218.48 L316.36,221.41 L321.43,219.46 L333.91,223.55 L346,222.38 L355.75,221.41 L365.5,219.85 L375.25,216.73 L385,210.88 L394.75,206.2 L404.5,204.05 L414.25,203.27 L424,204.05 L433.75,206.39 L443.5,207.76 L453.25,208.15 L463,208.73 L472.75,207.37 L482.5,204.44 L492.25,200.15 L502,194.3 L511.75,188.84 L521.5,184.75 L531.25,178.31 L541,170.12 L550.75,160.76 L562.84,147.31 L570.64,146.72 L580,138.92 L589.75,129.95 L599.5,122.15 L607.3,116.11" fill="none" stroke="#111" stroke-width="4" stroke-linejoin="round" stroke-linecap="round"/>
<path d="M104.5,299.64 L114.25,294.38 L124,288.72 L133.75,282.87 L147.01,274.88 L153.25,272.93 L163,268.05 L172.75,262.79 L187.38,256.94 L195.18,260.64 L202,257.72 L211.75,254.21 L221.5,249.92 L231.25,246.41 L241,241.92 L250.75,238.02 L260.5,234.71 L270.25,231.2 L280,228.66 L289.75,223.98 L297.16,221.45 L313.15,227.88 L328.36,230.81 L333.43,228.86 L345.91,232.95 L358,231.78 L367.75,230.81 L377.5,229.25 L387.25,226.13 L397,220.28 L406.75,215.6 L416.5,213.45 L426.25,212.67 L436,213.45 L445.75,215.79 L455.5,217.16 L465.25,217.55 L475,218.13 L484.75,216.77 L494.5,213.84 L504.25,209.55 L514,203.7 L523.75,198.24 L533.5,194.15 L543.25,187.71 L553,179.52 L562.75,170.16 L574.84,156.71 L582.64,156.12 L592,148.32 L601.75,139.35 L611.5,131.55 L619.3,125.51" fill="none" stroke="#5a1014" stroke-width="4.3" stroke-linejoin="round" stroke-linecap="round"/>
<path d="M104.5,299.64 L114.25,294.38 L124,288.72 L133.75,282.87 L147.01,274.88 L153.25,272.93 L163,268.05 L172.75,262.79 L187.38,256.94 L195.18,260.64 L202,257.72 L211.75,254.21 L221.5,249.92 L231.25,246.41 L241,241.92 L250.75,238.02 L260.5,234.71 L270.25,231.2 L280,228.66 L289.75,223.98 L297.16,221.45 L313.15,227.88 L328.36,230.81 L333.43,228.86 L345.91,232.95 L358,231.78 L367.75,230.81 L377.5,229.25 L387.25,226.13 L397,220.28 L406.75,215.6 L416.5,213.45 L426.25,212.67 L436,213.45 L445.75,215.79 L455.5,217.16 L465.25,217.55 L475,218.13 L484.75,216.77 L494.5,213.84 L504.25,209.55 L514,203.7 L523.75,198.24 L533.5,194.15 L543.25,187.71 L553,179.52 L562.75,170.16 L574.84,156.71 L582.64,156.12 L592,148.32 L601.75,139.35 L611.5,131.55 L619.3,125.51" fill="none" stroke="#c7262d" stroke-width="2" stroke-linejoin="round" stroke-linecap="round"/>
<line x1="619.4" y1="126.51" x2="619.4" y2="381" stroke="#111" stroke-width="1.3"/>
<line x1="104" y1="334.25" x2="620" y2="334.25" stroke="#111" stroke-width="1.1"/>
<line x1="104.5" y1="335" x2="104.5" y2="340.2" stroke="#333" stroke-width="1"/>
<text transform="translate(104.5,350.9) rotate(0) scale(0.54,1)" font-size="9.8" font-weight="normal" text-anchor="middle" fill="#2a2a2a" stroke="#2a2a2a" stroke-width="0.4">0.0</text>
<line x1="114.25" y1="335" x2="114.25" y2="340.2" stroke="#333" stroke-width="1"/>
<line x1="124" y1="335" x2="124" y2="340.2" stroke="#333" stroke-width="1"/>
<text transform="translate(124,350.9) rotate(0) scale(0.54,1)" font-size="9.8" font-weight="normal" text-anchor="middle" fill="#2a2a2a" stroke="#2a2a2a" stroke-width="0.4">1.0</text>
<line x1="133.75" y1="335" x2="133.75" y2="340.2" stroke="#333" stroke-width="1"/>
<line x1="143.5" y1="335" x2="143.5" y2="340.2" stroke="#333" stroke-width="1"/>
<text transform="translate(143.5,350.9) rotate(0) scale(0.54,1)" font-size="9.8" font-weight="normal" text-anchor="middle" fill="#2a2a2a" stroke="#2a2a2a" stroke-width="0.4">2.0</text>
<line x1="153.25" y1="335" x2="153.25" y2="340.2" stroke="#333" stroke-width="1"/>
<line x1="163" y1="335" x2="163" y2="340.2" stroke="#333" stroke-width="1"/>
<text transform="translate(163,350.9) rotate(0) scale(0.54,1)" font-size="9.8" font-weight="normal" text-anchor="middle" fill="#2a2a2a" stroke="#2a2a2a" stroke-width="0.4">3.0</text>
<line x1="172.75" y1="335" x2="172.75" y2="340.2" stroke="#333" stroke-width="1"/>
<line x1="182.5" y1="335" x2="182.5" y2="340.2" stroke="#333" stroke-width="1"/>
<text transform="translate(182.5,350.9) rotate(0) scale(0.54,1)" font-size="9.8" font-weight="normal" text-anchor="middle" fill="#2a2a2a" stroke="#2a2a2a" stroke-width="0.4">4.0</text>
<line x1="192.25" y1="335" x2="192.25" y2="340.2" stroke="#333" stroke-width="1"/>
<line x1="202" y1="335" x2="202" y2="340.2" stroke="#333" stroke-width="1"/>
<text transform="translate(202,350.9) rotate(0) scale(0.54,1)" font-size="9.8" font-weight="normal" text-anchor="middle" fill="#2a2a2a" stroke="#2a2a2a" stroke-width="0.4">5.0</text>
<line x1="211.75" y1="335" x2="211.75" y2="340.2" stroke="#333" stroke-width="1"/>
<line x1="221.5" y1="335" x2="221.5" y2="340.2" stroke="#333" stroke-width="1"/>
<text transform="translate(221.5,350.9) rotate(0) scale(0.54,1)" font-size="9.8" font-weight="normal" text-anchor="middle" fill="#2a2a2a" stroke="#2a2a2a" stroke-width="0.4">6.0</text>
<line x1="231.25" y1="335" x2="231.25" y2="340.2" stroke="#333" stroke-width="1"/>
<line x1="241" y1="335" x2="241" y2="340.2" stroke="#333" stroke-width="1"/>
<text transform="translate(241,350.9) rotate(0) scale(0.54,1)" font-size="9.8" font-weight="normal" text-anchor="middle" fill="#2a2a2a" stroke="#2a2a2a" stroke-width="0.4">7.0</text>
<line x1="250.75" y1="335" x2="250.75" y2="340.2" stroke="#333" stroke-width="1"/>
<line x1="260.5" y1="335" x2="260.5" y2="340.2" stroke="#333" stroke-width="1"/>
<text transform="translate(260.5,350.9) rotate(0) scale(0.54,1)" font-size="9.8" font-weight="normal" text-anchor="middle" fill="#2a2a2a" stroke="#2a2a2a" stroke-width="0.4">8.0</text>
<line x1="270.25" y1="335" x2="270.25" y2="340.2" stroke="#333" stroke-width="1"/>
<line x1="280" y1="335" x2="280" y2="340.2" stroke="#333" stroke-width="1"/>
<text transform="translate(280,350.9) rotate(0) scale(0.54,1)" font-size="9.8" font-weight="normal" text-anchor="middle" fill="#2a2a2a" stroke="#2a2a2a" stroke-width="0.4">9.0</text>
<line x1="289.75" y1="335" x2="289.75" y2="340.2" stroke="#333" stroke-width="1"/>
<line x1="299.5" y1="335" x2="299.5" y2="340.2" stroke="#333" stroke-width="1"/>
<text transform="translate(299.5,350.9) rotate(0) scale(0.54,1)" font-size="9.8" font-weight="normal" text-anchor="middle" fill="#2a2a2a" stroke="#2a2a2a" stroke-width="0.4">10.0</text>
<line x1="309.25" y1="335" x2="309.25" y2="340.2" stroke="#333" stroke-width="1"/>
<line x1="319" y1="335" x2="319" y2="340.2" stroke="#333" stroke-width="1"/>
<text transform="translate(319,350.9) rotate(0) scale(0.54,1)" font-size="9.8" font-weight="normal" text-anchor="middle" fill="#2a2a2a" stroke="#2a2a2a" stroke-width="0.4">11.0</text>
<line x1="328.75" y1="335" x2="328.75" y2="340.2" stroke="#333" stroke-width="1"/>
<line x1="338.5" y1="335" x2="338.5" y2="340.2" stroke="#333" stroke-width="1"/>
<text transform="translate(338.5,350.9) rotate(0) scale(0.54,1)" font-size="9.8" font-weight="normal" text-anchor="middle" fill="#2a2a2a" stroke="#2a2a2a" stroke-width="0.4">12.0</text>
<line x1="348.25" y1="335" x2="348.25" y2="340.2" stroke="#333" stroke-width="1"/>
<line x1="358" y1="335" x2="358" y2="340.2" stroke="#333" stroke-width="1"/>
<text transform="translate(358,350.9) rotate(0) scale(0.54,1)" font-size="9.8" font-weight="normal" text-anchor="middle" fill="#2a2a2a" stroke="#2a2a2a" stroke-width="0.4">13.0</text>
<line x1="367.75" y1="335" x2="367.75" y2="340.2" stroke="#333" stroke-width="1"/>
<line x1="377.5" y1="335" x2="377.5" y2="340.2" stroke="#333" stroke-width="1"/>
<text transform="translate(377.5,350.9) rotate(0) scale(0.54,1)" font-size="9.8" font-weight="normal" text-anchor="middle" fill="#2a2a2a" stroke="#2a2a2a" stroke-width="0.4">14.0</text>
<line x1="387.25" y1="335" x2="387.25" y2="340.2" stroke="#333" stroke-width="1"/>
<line x1="397" y1="335" x2="397" y2="340.2" stroke="#333" stroke-width="1"/>
<text transform="translate(397,350.9) rotate(0) scale(0.54,1)" font-size="9.8" font-weight="normal" text-anchor="middle" fill="#2a2a2a" stroke="#2a2a2a" stroke-width="0.4">15.0</text>
<line x1="406.75" y1="335" x2="406.75" y2="340.2" stroke="#333" stroke-width="1"/>
<line x1="416.5" y1="335" x2="416.5" y2="340.2" stroke="#333" stroke-width="1"/>
<text transform="translate(416.5,350.9) rotate(0) scale(0.54,1)" font-size="9.8" font-weight="normal" text-anchor="middle" fill="#2a2a2a" stroke="#2a2a2a" stroke-width="0.4">16.0</text>
<line x1="426.25" y1="335" x2="426.25" y2="340.2" stroke="#333" stroke-width="1"/>
<line x1="436" y1="335" x2="436" y2="340.2" stroke="#333" stroke-width="1"/>
<text transform="translate(436,350.9) rotate(0) scale(0.54,1)" font-size="9.8" font-weight="normal" text-anchor="middle" fill="#2a2a2a" stroke="#2a2a2a" stroke-width="0.4">17.0</text>
<line x1="445.75" y1="335" x2="445.75" y2="340.2" stroke="#333" stroke-width="1"/>
<line x1="455.5" y1="335" x2="455.5" y2="340.2" stroke="#333" stroke-width="1"/>
<text transform="translate(455.5,350.9) rotate(0) scale(0.54,1)" font-size="9.8" font-weight="normal" text-anchor="middle" fill="#2a2a2a" stroke="#2a2a2a" stroke-width="0.4">18.0</text>
<line x1="465.25" y1="335" x2="465.25" y2="340.2" stroke="#333" stroke-width="1"/>
<line x1="475" y1="335" x2="475" y2="340.2" stroke="#333" stroke-width="1"/>
<text transform="translate(475,350.9) rotate(0) scale(0.54,1)" font-size="9.8" font-weight="normal" text-anchor="middle" fill="#2a2a2a" stroke="#2a2a2a" stroke-width="0.4">19.0</text>
<line x1="484.75" y1="335" x2="484.75" y2="340.2" stroke="#333" stroke-width="1"/>
<line x1="494.5" y1="335" x2="494.5" y2="340.2" stroke="#333" stroke-width="1"/>
<text transform="translate(494.5,350.9) rotate(0) scale(0.54,1)" font-size="9.8" font-weight="normal" text-anchor="middle" fill="#2a2a2a" stroke="#2a2a2a" stroke-width="0.4">20.0</text>
<line x1="504.25" y1="335" x2="504.25" y2="340.2" stroke="#333" stroke-width="1"/>
<line x1="514" y1="335" x2="514" y2="340.2" stroke="#333" stroke-width="1"/>
<text transform="translate(514,350.9) rotate(0) scale(0.54,1)" font-size="9.8" font-weight="normal" text-anchor="middle" fill="#2a2a2a" stroke="#2a2a2a" stroke-width="0.4">21.0</text>
<line x1="523.75" y1="335" x2="523.75" y2="340.2" stroke="#333" stroke-width="1"/>
<line x1="533.5" y1="335" x2="533.5" y2="340.2" stroke="#333" stroke-width="1"/>
<text transform="translate(533.5,350.9) rotate(0) scale(0.54,1)" font-size="9.8" font-weight="normal" text-anchor="middle" fill="#2a2a2a" stroke="#2a2a2a" stroke-width="0.4">22.0</text>
<line x1="543.25" y1="335" x2="543.25" y2="340.2" stroke="#333" stroke-width="1"/>
<line x1="553" y1="335" x2="553" y2="340.2" stroke="#333" stroke-width="1"/>
<text transform="translate(553,350.9) rotate(0) scale(0.54,1)" font-size="9.8" font-weight="normal" text-anchor="middle" fill="#2a2a2a" stroke="#2a2a2a" stroke-width="0.4">23.0</text>
<line x1="562.75" y1="335" x2="562.75" y2="340.2" stroke="#333" stroke-width="1"/>
<line x1="572.5" y1="335" x2="572.5" y2="340.2" stroke="#333" stroke-width="1"/>
<text transform="translate(572.5,350.9) rotate(0) scale(0.54,1)" font-size="9.8" font-weight="normal" text-anchor="middle" fill="#2a2a2a" stroke="#2a2a2a" stroke-width="0.4">24.0</text>
<line x1="582.25" y1="335" x2="582.25" y2="340.2" stroke="#333" stroke-width="1"/>
<line x1="592" y1="335" x2="592" y2="340.2" stroke="#333" stroke-width="1"/>
<text transform="translate(592,350.9) rotate(0) scale(0.54,1)" font-size="9.8" font-weight="normal" text-anchor="middle" fill="#2a2a2a" stroke="#2a2a2a" stroke-width="0.4">25.0</text>
<line x1="601.75" y1="335" x2="601.75" y2="340.2" stroke="#333" stroke-width="1"/>
<line x1="611.5" y1="335" x2="611.5" y2="340.2" stroke="#333" stroke-width="1"/>
<text transform="translate(611.5,350.9) rotate(0) scale(0.54,1)" font-size="9.8" font-weight="normal" text-anchor="middle" fill="#2a2a2a" stroke="#2a2a2a" stroke-width="0.4">26.0</text>
<text transform="translate(101.8,370.4) rotate(-90) scale(0.66,1)" font-size="9.6" font-weight="bold" text-anchor="start" fill="#111" stroke="#111" stroke-width="0.45">0.000</text>
<text transform="translate(114,380) rotate(-90) scale(0.66,1)" font-size="9.6" font-weight="bold" text-anchor="start" fill="#111" stroke="#111" stroke-width="0.45">km 198.5</text>
<text transform="translate(138.28,354.4) rotate(-90) scale(0.63,1)" font-size="9.6" font-weight="normal" text-anchor="end" fill="#222" stroke="#222" stroke-width="0.4">1.650</text>
<text transform="translate(178.25,354.4) rotate(-90) scale(0.63,1)" font-size="9.6" font-weight="normal" text-anchor="end" fill="#222" stroke="#222" stroke-width="0.4">3.700</text>
<text transform="translate(347.9,354.4) rotate(-90) scale(0.63,1)" font-size="9.6" font-weight="normal" text-anchor="end" fill="#222" stroke="#222" stroke-width="0.4">12.400</text>
<text transform="translate(363.5,354.4) rotate(-90) scale(0.63,1)" font-size="9.6" font-weight="normal" text-anchor="end" fill="#222" stroke="#222" stroke-width="0.4">13.200</text>
<text transform="translate(432.73,354.4) rotate(-90) scale(0.63,1)" font-size="9.6" font-weight="normal" text-anchor="end" fill="#222" stroke="#222" stroke-width="0.4">16.750</text>
<text transform="translate(474.65,354.4) rotate(-90) scale(0.63,1)" font-size="9.6" font-weight="normal" text-anchor="end" fill="#222" stroke="#222" stroke-width="0.4">18.900</text>
<text transform="translate(616.8,354.4) rotate(-90) scale(0.66,1)" font-size="9.6" font-weight="bold" text-anchor="end" fill="#111" stroke="#111" stroke-width="0.45">26.450</text>
<text transform="translate(627.9,379.6) rotate(-90) scale(0.66,1)" font-size="9.6" font-weight="bold" text-anchor="start" fill="#111" stroke="#111" stroke-width="0.45">km 225.0</text>
<text transform="translate(630,332) rotate(-90) scale(1.46,1)" font-size="8.4" font-weight="bold" text-anchor="start" fill="#111" font-style="italic" stroke="#111" stroke-width="0.7">SDS</text>
<text transform="translate(89.4,324.3) rotate(-90) scale(0.65,1)" font-size="14.6" font-weight="bold" text-anchor="start" fill="#111" stroke="#111" stroke-width="0.3">1228 - SANTO STEFANO DI SESSANIO</text>
<text transform="translate(588.6,32.5) rotate(0) scale(0.65,1)" font-size="14.6" font-weight="bold" text-anchor="end" fill="#111" stroke="#111" stroke-width="0.25">2135 - GRAN SASSO D’ITALIA</text>
<text transform="translate(589,43.2) rotate(0) scale(0.65,1)" font-size="14.6" font-weight="bold" text-anchor="end" fill="#111" stroke="#111" stroke-width="0.25">(Campo Imperatore)</text>
<line x1="607.6" y1="71.8" x2="607.6" y2="113" stroke="#111" stroke-width="1.1"/>
<rect x="594.5" y="21.2" width="23.1" height="22.4" rx="4.2" fill="#fff" stroke="#5a1518" stroke-width="1.3"/>
<rect x="595.8" y="22.5" width="20.5" height="19.8" rx="3" fill="#d8232a"/>
<rect x="597.6" y="30.9" width="16.9" height="10.5" rx="0.8" fill="url(#pink)"/>
<text transform="translate(606.05,29.8) rotate(0) scale(0.8,1)" font-size="5.3" font-weight="bold" text-anchor="middle" fill="#fff">ARRIVO</text>
<circle cx="606.05" cy="35.4" r="1.9" fill="#d8232a"/>
<path d="M602.5,31.8 V38.7 H609.6 V31.8" fill="none" stroke="#d8232a" stroke-width="1.5"/>
<rect x="600" y="39.5" width="12.1" height="1.4" fill="#d8232a"/>
<polygon points="594.2,46.3 620.8,46.3 607.5,69.2" fill="url(#gpm)" stroke="#7a1418" stroke-width="0.7" stroke-linejoin="round"/>
<polygon points="600.2,54.6 614.8,54.6 607.5,66" fill="url(#pink2)"/>
<text transform="translate(607.5,53.5) rotate(0) scale(0.92,1)" font-size="6.6" font-weight="bold" text-anchor="middle" fill="#e4e4e4" stroke="#3a3a3a" stroke-width="0.5" paint-order="stroke">GPM</text>
<text transform="translate(607.5,63) rotate(0) scale(0.85,1)" font-size="8.2" font-weight="bold" text-anchor="middle" fill="#111">1</text>
<path d="M570.7,77.2 V136.7 H587" fill="none" stroke="#2a2a2a" stroke-width="1"/>
<rect x="558.5" y="65.6" width="25.4" height="9.6" rx="1.4" fill="#151515"/>
<text transform="translate(571.3,73.4) rotate(0) scale(0.62,1)" font-size="8.2" font-weight="bold" text-anchor="middle" fill="#fff">max 13%</text>
<polygon points="571.2,52.4 577.4,63.6 565,63.6" fill="#fff" stroke="#d4504c" stroke-width="1.5" stroke-linejoin="round"/>
<polygon points="566.6,62.8 576.2,62.8 572.4,55.4 570.8,58.8 568.8,60.2" fill="#222"/>
<polygon points="584.4,136.3 589.3,131.8 597.6,138.3 592.7,142.8" fill="#d8202c"/>
<circle cx="591" cy="137.4" r="1.6" fill="#fff" stroke="#5a1014" stroke-width="0.6"/>
</svg>
</body></html>
